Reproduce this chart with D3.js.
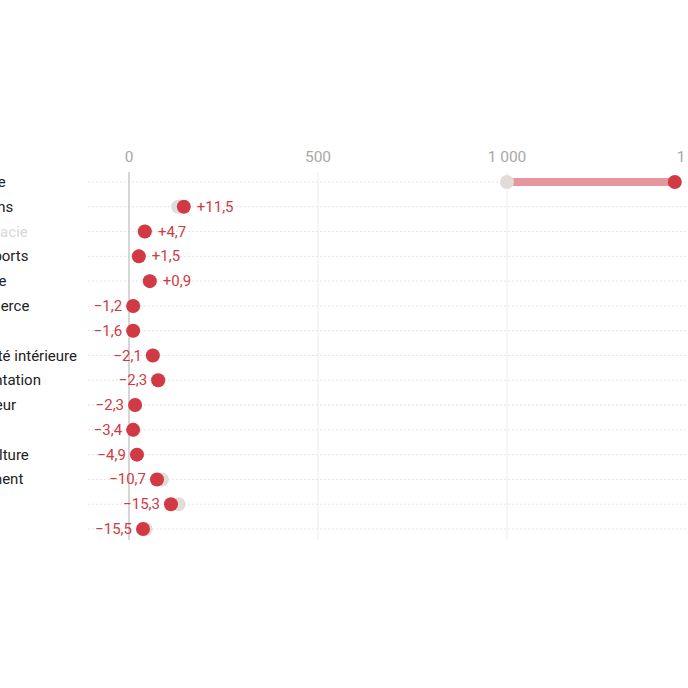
<!DOCTYPE html>
<html><head><meta charset="utf-8">
<script src="https://cdn.jsdelivr.net/npm/d3@7"></script>
<style>body{margin:0;background:#fff}svg{display:block;font-family:Roboto,sans-serif}</style>
</head><body><svg id="c" width="688" height="688"></svg>
<script>
var categories = ["Énergie","Maisons","Pharmacie","Transports","Banque","Commerce","Luxe","Sécurité intérieure","Alimentation","Couvreur","Audit","Agriculture","Logement","Jeux","Mode"];
var before = [1000,130,40,26,55,11,11,64,79,16,11,22,87,131,44];
var after = [1444,145,42,26,55,11,11,63,77,16,11,21,74,111,37];
var changes = ["+44,4","+11,5","+4,7","+1,5","+0,9","−1,2","−1,6","−2,1","−2,3","−2,3","−3,4","−4,9","−10,7","−15,3","−15,5"];
var ticks = [0,500,1000,1500];

var svg = d3.select("#c");
var x = d3.scaleLinear().domain([0,1000]).range([129,507]);
var y = d3.scalePoint().domain(categories).range([182,529]);
var red = "#d13a45";

svg.selectAll(".grid").data(categories).enter().append("line")
  .attr("x1",88).attr("x2",688).attr("y1",d=>y(d)).attr("y2",d=>y(d))
  .attr("stroke","#e4e4e4").attr("stroke-dasharray","2,2");

svg.selectAll(".vg").data(ticks).enter().append("line")
  .attr("x1",d=>x(d)).attr("x2",d=>x(d)).attr("y1",172).attr("y2",540)
  .attr("stroke",d=>d===0?"#c8c8c8":"#ececec").attr("stroke-width",d=>d===0?1.5:1);

svg.selectAll(".tk").data(ticks).enter().append("text")
  .attr("x",d=>x(d)).attr("y",162).attr("text-anchor","middle")
  .attr("fill","#a8a8a8").attr("font-size",15.5)
  .text(d=>d3.format(",")(d).replace(/,/g," "));

svg.selectAll(".lab").data(categories).enter().append("text")
  .attr("x",-44).attr("y",d=>y(d)+5).attr("font-size",15)
  .attr("fill",(d,i)=>i===2?"#d8d8d8":"#222").text(d=>d);

var rows = svg.selectAll(".row").data(categories).enter().append("g");
rows.append("line").attr("x1",(d,i)=>x(before[i])).attr("x2",(d,i)=>x(after[i]))
  .attr("y1",d=>y(d)).attr("y2",d=>y(d)).attr("stroke","#e8969d").attr("stroke-width",8);
rows.append("circle").attr("cx",(d,i)=>x(before[i])).attr("cy",d=>y(d)).attr("r",7).attr("fill","#e2dcd9");
rows.append("circle").attr("cx",(d,i)=>x(after[i])).attr("cy",d=>y(d)).attr("r",7).attr("fill",red);
rows.append("text").attr("y",d=>y(d)+5).attr("font-size",15).attr("fill",red)
  .attr("x",(d,i)=>changes[i][0]==="+"?x(Math.max(before[i],after[i]))+13:x(Math.min(before[i],after[i]))-11)
  .attr("text-anchor",(d,i)=>changes[i][0]==="+"?"start":"end")
  .text((d,i)=>changes[i]);
</script></body></html>
